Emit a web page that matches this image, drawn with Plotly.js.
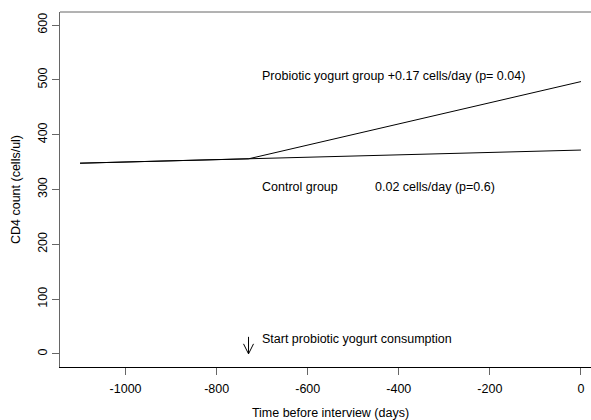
<!DOCTYPE html>
<html>
<head>
<meta charset="utf-8">
<script src="https://cdn.plot.ly/plotly-3.0.1.min.js"></script>
<style>
html,body{margin:0;padding:0;overflow:hidden;background:#fff;}
#chart{width:602px;height:420px;}
</style>
</head>
<body>
<div id="chart"></div>
<script>
// Data
const controlX = [-1100, -730, 0];
const controlY = [348, 356, 372];
const probioticX = [-1100, -730, 0];
const probioticY = [348, 356, 497];
const xTicks = [-1000, -800, -600, -400, -200, 0];
const yTicks = [0, 100, 200, 300, 400, 500, 600];
const labelProbiotic = 'Probiotic yogurt group +0.17 cells/day (p= 0.04)';
const labelControl = 'Control group';
const labelControlSlope = '0.02 cells/day (p=0.6)';
const labelStart = 'Start probiotic yogurt consumption';
const startDay = -730;

const FONT = 'Arial, "Liberation Sans", sans-serif';
const FS = 12.5;

const traces = [
  {x: controlX, y: controlY, mode: 'lines', line: {color: '#000', width: 1}, hoverinfo: 'skip', showlegend: false},
  {x: probioticX, y: probioticY, mode: 'lines', line: {color: '#000', width: 1}, hoverinfo: 'skip', showlegend: false}
];

const annFont = {family: FONT, size: FS, color: '#000'};
const layout = {
  width: 602, height: 420,
  margin: {l: 60, r: 1, t: 12, b: 53},
  paper_bgcolor: '#fff', plot_bgcolor: '#fff',
  font: {family: FONT, size: FS, color: '#000'},
  showlegend: false,
  xaxis: {
    range: [-1144, 44], tickvals: xTicks, ticktext: xTicks.map(String),
    showgrid: false, zeroline: false, showline: true, linecolor: '#000', linewidth: 1,
    ticks: 'outside', ticklen: 7, tickcolor: '#666', tickwidth: 1, ticklabelstandoff: 3,
    tickfont: {family: FONT, size: FS, color: '#000'},
    title: {text: 'Time before interview (days)', font: {family: FONT, size: FS, color: '#000'}, standoff: 13}
  },
  yaxis: {
    range: [-24, 624], tickvals: yTicks, ticktext: yTicks.map(String),
    showgrid: false, zeroline: false, showline: true, linecolor: '#666', linewidth: 1,
    ticks: 'outside', ticklen: 7, tickcolor: '#666', tickwidth: 1, tickangle: -90,
    tickfont: {family: FONT, size: FS, color: '#000'},
    title: {text: 'CD4 count (cells/ul)', font: {family: FONT, size: FS, color: '#000'}, standoff: 12}
  },
  annotations: [
    {x: -705, y: 507, xref: 'x', yref: 'y', text: labelProbiotic, showarrow: false, xanchor: 'left', yanchor: 'middle', font: annFont},
    {x: -705, y: 305, xref: 'x', yref: 'y', text: labelControl, showarrow: false, xanchor: 'left', yanchor: 'middle', font: annFont},
    {x: -456, y: 305, xref: 'x', yref: 'y', text: labelControlSlope, showarrow: false, xanchor: 'left', yanchor: 'middle', font: annFont},
    {x: -705, y: 27, xref: 'x', yref: 'y', text: labelStart, showarrow: false, xanchor: 'left', yanchor: 'middle', font: annFont}
  ],
  shapes: [
    {type: 'line', xref: 'paper', yref: 'paper', x0: 0, x1: 1, y0: 1, y1: 1,
     line: {color: '#666', width: 1}},
    {type: 'line', xref: 'paper', yref: 'paper', x0: 1, x1: 1, y0: 0, y1: 1,
     line: {color: '#666', width: 1}},
    {type: 'path', xref: 'x', yref: 'y', xsizemode: 'pixel', ysizemode: 'pixel',
     xanchor: startDay, yanchor: 0,
     path: 'M0,17 L0,0 M-5,10 L0,0 L5,10',
     line: {color: '#000', width: 1}}
  ]
};

Plotly.newPlot('chart', traces, layout, {displayModeBar: false, staticPlot: true});
</script>
</body>
</html>
